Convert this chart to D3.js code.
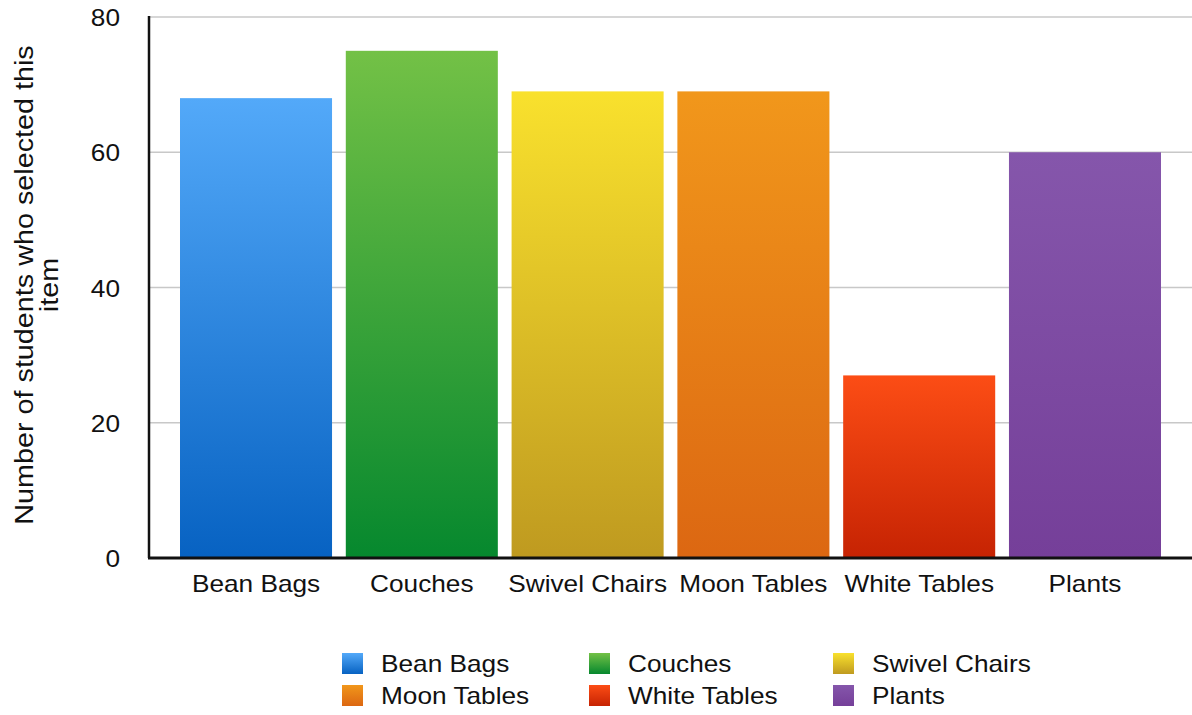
<!DOCTYPE html>
<html>
<head>
<meta charset="utf-8">
<script src="https://cdn.jsdelivr.net/npm/d3@7"></script>
<style>
  body { margin: 0; background: #fff; }
  text { font-family: "Liberation Sans", Arial, Helvetica, sans-serif; fill: #111; }
</style>
</head>
<body>
<script>
const width = 1192;
const height = 715;

// data
const categories = ['Bean Bags', 'Couches', 'Swivel Chairs', 'Moon Tables', 'White Tables', 'Plants'];
const values = [68, 75, 69, 69, 27, 60];
const yTicks = [0, 20, 40, 60, 80];
const axisTitle = ['Number of students who selected this', 'item'];

// gradient stops per bar (top, bottom)
const colorTop = ['#53a9f9', '#73c146', '#f9e12d', '#f1971b', '#fc4d15', '#8556ab'];
const colorBottom = ['#0762c2', '#06882e', '#bf9a20', '#dc6712', '#c62303', '#753f99'];

const plot = {left: 149, right: 1192, top: 17, bottom: 558};
const stretch = 1.14; // text in the reference is slightly wide

const svg = d3.select('body').append('svg')
  .attr('width', width)
  .attr('height', height);

const defs = svg.append('defs');
categories.forEach((c, i) => {
  const g = defs.append('linearGradient')
    .attr('id', 'grad' + i)
    .attr('x1', 0).attr('y1', 0).attr('x2', 0).attr('y2', 1);
  g.append('stop').attr('offset', '0%').attr('stop-color', colorTop[i]);
  g.append('stop').attr('offset', '100%').attr('stop-color', colorBottom[i]);
});

const x = d3.scaleBand()
  .domain(categories)
  .range([plot.left, plot.right])
  .paddingInner(0.083)
  .paddingOuter(0.187);

const y = d3.scaleLinear()
  .domain([0, 80])
  .range([plot.bottom, plot.top]);

// gridlines
svg.append('g')
  .selectAll('line')
  .data(yTicks.filter(t => t > 0))
  .enter().append('line')
    .attr('x1', plot.left)
    .attr('x2', plot.right)
    .attr('y1', d => y(d))
    .attr('y2', d => y(d))
    .attr('stroke', '#c8c8c8')
    .attr('stroke-width', 1.5);

// bars
svg.append('g')
  .selectAll('rect')
  .data(values)
  .enter().append('rect')
    .attr('x', (d, i) => x(categories[i]))
    .attr('width', x.bandwidth())
    .attr('y', d => y(d))
    .attr('height', d => y(0) - y(d))
    .attr('fill', (d, i) => `url(#grad${i})`);

// y axis line and baseline
svg.append('line')
  .attr('x1', plot.left).attr('x2', plot.left)
  .attr('y1', plot.top - 1).attr('y2', plot.bottom)
  .attr('stroke', '#111').attr('stroke-width', 2.5);
svg.append('line')
  .attr('x1', plot.left - 1).attr('x2', plot.right)
  .attr('y1', plot.bottom).attr('y2', plot.bottom)
  .attr('stroke', '#111').attr('stroke-width', 3);

// y tick labels
svg.append('g')
  .selectAll('text')
  .data(yTicks)
  .enter().append('text')
    .attr('transform', d => `translate(120, ${y(d) + 9}) scale(${stretch},1)`)
    .attr('text-anchor', 'end')
    .attr('font-size', 23)
    .text(d => d);

// x category labels
svg.append('g')
  .selectAll('text')
  .data(categories)
  .enter().append('text')
    .attr('transform', d => `translate(${x(d) + x.bandwidth() / 2}, 592) scale(${stretch},1)`)
    .attr('text-anchor', 'middle')
    .attr('font-size', 23)
    .text(d => d);

// axis title
svg.append('g')
  .selectAll('text')
  .data(axisTitle)
  .enter().append('text')
    .attr('transform', (d, i) => `translate(${33 + i * 25}, 285) rotate(-90) scale(1.15,1)`)
    .attr('text-anchor', 'middle')
    .attr('font-size', 25)
    .text(d => d);

// legend
const legendCols = [342, 589, 833];
const legend = svg.append('g')
  .selectAll('g')
  .data(categories)
  .enter().append('g')
    .attr('transform', (d, i) => `translate(${legendCols[i % 3]}, ${653 + Math.floor(i / 3) * 32})`);

legend.append('rect')
  .attr('width', 21)
  .attr('height', 21)
  .attr('fill', (d, i) => `url(#grad${i})`);

legend.append('text')
  .attr('transform', `translate(39, 19) scale(${stretch},1)`)
  .attr('font-size', 23)
  .text(d => d);
</script>
</body>
</html>
